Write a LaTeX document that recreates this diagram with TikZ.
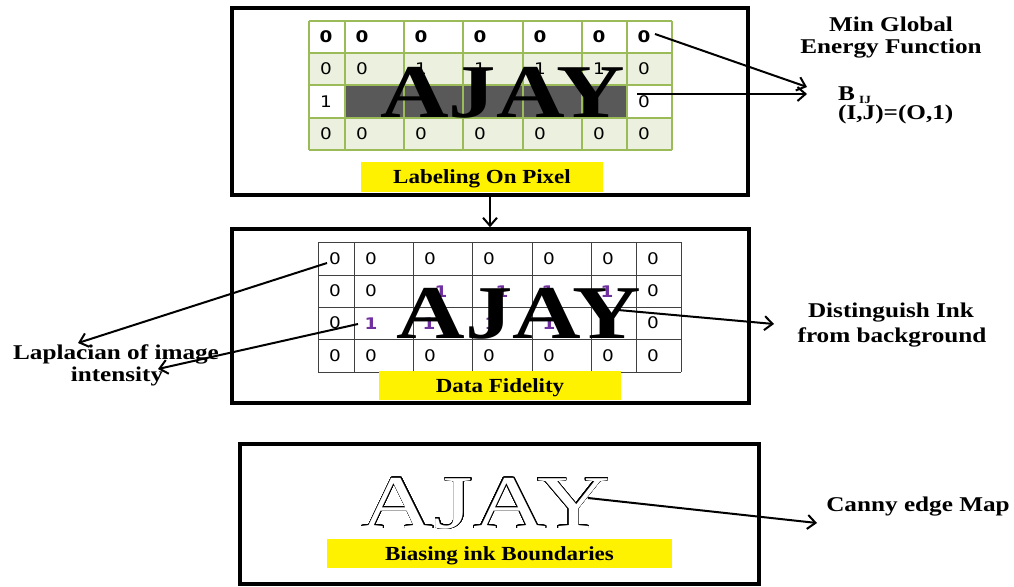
\documentclass[tikz,border=0pt]{standalone}
\usepackage{fontspec}
\setmainfont{Liberation Serif}
\newfontfamily\digitfont{DejaVu Sans}
\usepackage{graphicx}
\usepackage[copies]{contour}
\contourlength{0.6pt}
\contournumber{32}
\usetikzlibrary{arrows.meta}
\definecolor{gridgreen}{HTML}{9BBB59}
\definecolor{cellgreen}{HTML}{EBF1DE}
\definecolor{darkcell}{HTML}{595959}
\definecolor{purp}{HTML}{7030A0}
\newcommand\wide[1]{\scalebox{1.15}[1]{#1}}
\newcommand\wider[1]{\scalebox{1.2}[1]{#1}}
\newcommand\widest[1]{\scalebox{1.25}[1]{#1}}
\begin{document}
\begin{tikzpicture}[x=1pt,y=-1pt,
  panel/.style={draw=black, line width=3.5pt, inner sep=0pt},
  tag/.style={fill=yellow, inner sep=0pt},
  tagtext/.style={inner sep=0pt, anchor=base, font=\bfseries\fontsize{20}{20}\selectfont},
  lbl/.style={inner sep=0pt, anchor=base, font=\bfseries\fontsize{21}{21}\selectfont},
  dig/.style={inner sep=0pt, font=\digitfont\fontsize{16}{16}\selectfont},
  bdig/.style={dig, font=\digitfont\bfseries\fontsize{16}{16}\selectfont},
  pdig/.style={dig, text=purp, font=\digitfont\bfseries\fontsize{16}{16}\selectfont},
  gline1/.style={draw=gridgreen, line width=1.5pt},
  gline2/.style={draw=black!75, line width=1pt},
  big/.style={inner sep=0pt, anchor=base, font=\bfseries\fontsize{76}{76}\selectfont},
  conn/.style={draw=black, line width=2pt, -{Straight Barb[length=8pt,width=14pt]}}
]
\useasboundingbox (0,0) rectangle (1014,586);
% panels
\node[panel, minimum width=516pt, minimum height=187pt] (box1) at (490,101.5) {};
\node[panel, minimum width=517pt, minimum height=174pt] (box2) at (490.5,316) {};
\node[panel, minimum width=519pt, minimum height=140pt] (box3) at (499.5,514) {};
% grid 1 fills
\fill[cellgreen] (309,53) rectangle (672,85);
\fill[cellgreen] (309,118) rectangle (672,150);
\fill[darkcell] (345,85) rectangle (627,118);
\foreach \x in {309,345,404,463,523,582,627,672} \draw[gline1] (\x,21) -- (\x,150);
\foreach \y in {21,53,85,118,150} \draw[gline1] (309,\y) -- (672,\y);
% grid 1 digits
\foreach \c/\x in {1/326,2/362,3/421,4/480,5/540,6/599,7/644}
  \node[bdig] (ga\c) at (\x,37) {\wide{0}};
\foreach \c/\x/\v in {1/326/0,2/362/0,3/421/1,4/480/1,5/540/1,6/599/1,7/644/0}
  \node[dig] (gb\c) at (\x,69) {\wide{\v}};
\node[dig] (gc1) at (326,101.5) {\wide{1}};
\node[dig] (gc7) at (644,101.5) {\wide{0}};
\foreach \c/\x in {1/326,2/362,3/421,4/480,5/540,6/599,7/644}
  \node[dig] (gd\c) at (\x,134) {\wide{0}};
\node[big] (ajay1) at (502.5,117) {\widest{AJAY}};
\node[tag, minimum width=242pt, minimum height=30pt] (tag1) at (482,177) {};
\node[tagtext] (tag1t) at (482,183) {\wide{Labeling On Pixel}};
% grid 2
\foreach \x in {318,354,413,472,532,591,636,681} \draw[gline2] (\x,242) -- (\x,372);
\foreach \y in {242,275,307,339,372} \draw[gline2] (318,\y) -- (681,\y);
\foreach \c/\x in {1/335,2/371,3/430,4/489,5/549,6/608,7/653}
  \node[dig] (ha\c) at (\x,258.5) {\wide{0}};
\node[dig] (hb1) at (335,291) {\wide{0}};
\node[dig] (hb2) at (371,291) {\wide{0}};
\node[dig] (hb7) at (653,291) {\wide{0}};
\foreach \c/\x in {3/441,4/502,5/548,6/607}
  \node[pdig] (hp\c) at (\x,292) {\wide{1}};
\node[dig] (hc1) at (335,323) {\wide{0}};
\node[dig] (hc7) at (653,323) {\wide{0}};
\foreach \c/\x in {2/371,3/429,4/491,5/549}
  \node[pdig] (hq\c) at (\x,324) {\wide{1}};
\foreach \c/\x in {1/335,2/371,3/430,4/489,5/549,6/608,7/653}
  \node[dig] (hd\c) at (\x,355.5) {\wide{0}};
\node[big] (ajay2) at (519,338) {\widest{AJAY}};
\node[tag, minimum width=242pt, minimum height=29pt] (tag2) at (500,385.5) {};
\node[tagtext] (tag2t) at (500,392) {\wide{Data Fidelity}};
% panel 3
\node[inner sep=0pt, anchor=base, font=\fontsize{76}{76}\selectfont] (ajay3) at (485.5,528)
  {\scalebox{1.33}[1]{\contour{black}{\textcolor{white}{AJAY}}}};
\node[tag, minimum width=345pt, minimum height=29pt] (tag3) at (499.5,553.5) {};
\node[tagtext] (tag3t) at (499.5,560) {\wide{Biasing ink Boundaries}};
% right/left labels
\node[lbl] (minglobal) at (891,32) {\wider{Min Global}};
\node[lbl] (energy) at (891,54) {\wider{Energy Function}};
\node[lbl, anchor=base west] (bij) at (838,100) {\wider{B\,\raisebox{-3pt}{\fontsize{11}{11}\selectfont IJ}}};
\node[lbl, anchor=base west] (ij) at (838,119) {\wider{(I,J)=(O,1)}};
\node[lbl] (lap1) at (116,359) {\wider{Laplacian of image}};
\node[lbl] (lap2) at (117,381) {\wider{intensity}};
\node[lbl] (dist1) at (891,317) {\wider{Distinguish Ink}};
\node[lbl] (dist2) at (892,342) {\wider{from background}};
\node[lbl] (canny) at (918,511) {\wider{Canny edge Map}};
% connector endpoints
\coordinate (s1) at (655,34);
\coordinate (e1) at (807,87);
\coordinate (s2) at (637,94);
\coordinate (e2) at (807,94);
\coordinate (s4) at (327,263);
\coordinate (e4) at (78,343);
\coordinate (s5) at (358,324);
\coordinate (e5) at (158,369);
\coordinate (s6) at (618,310);
\coordinate (e6) at (774,324);
\coordinate (s7) at (588,498);
\coordinate (e7) at (817,523);
\draw[conn] (s1) -- (e1);
\draw[conn] (s2) -- (e2);
\draw[conn] (box1.south) -- (box1.south |- box2.north);
\draw[conn] (s4) -- (e4);
\draw[conn] (s5) -- (e5);
\draw[conn] (s6) -- (e6);
\draw[conn] (s7) -- (e7);
\end{tikzpicture}
\end{document}
